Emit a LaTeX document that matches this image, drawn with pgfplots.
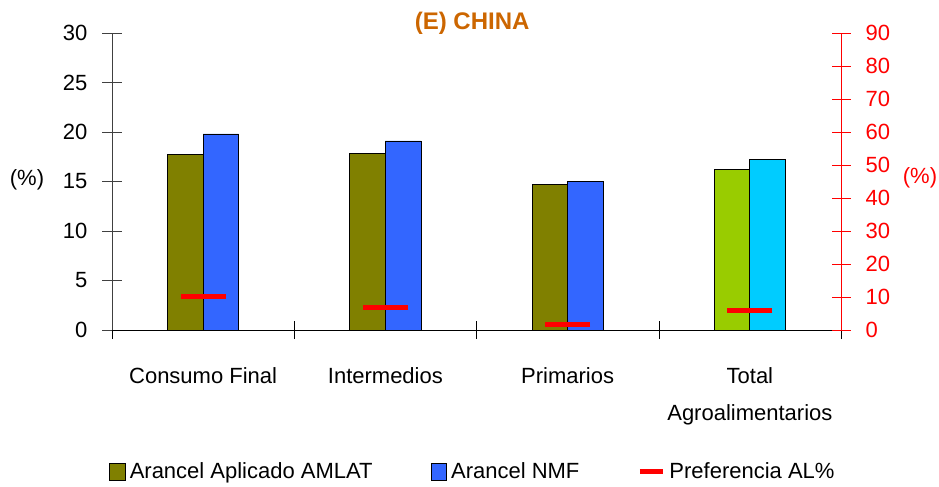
\documentclass[border=0pt]{standalone}
\usepackage{fontspec}
\setmainfont{Liberation Sans}
\usepackage{pgfplots}
\pgfplotsset{compat=1.18}
\definecolor{amlat}{HTML}{808000}
\definecolor{nmf}{HTML}{3366FF}
\definecolor{amlatT}{HTML}{99CC00}
\definecolor{nmfT}{HTML}{00CCFF}
\definecolor{titlec}{HTML}{CC6600}
\begin{document}
\begin{tikzpicture}
\pgfplotsset{
 common/.style={
  width=364.5pt, height=148.5pt, scale only axis,
  xmin=-0.5, xmax=3.5,
  tick align=center, major tick length=9.5pt,
  /pgf/number format/assume math mode=true,
  tick label style={font=\fontsize{11}{13}\selectfont},
  clip=false,
 }
}
\begin{axis}[common, name=main,
  ymin=0, ymax=30, ytick={0,5,...,30},
  axis x line*=bottom, axis y line*=left,
  axis line style={-},
  y axis line style={draw=darkgray}, ytick style={draw=darkgray},
  yticklabel style={xshift=-4pt},
  xtick={0,1,2,3},
  xticklabels={Consumo Final, Intermedios, Primarios, {Total\\Agroalimentarios}},
  xticklabel style={align=center, font=\fontsize{11}{18.5}\selectfont, yshift=-10.5pt},
  major x tick style={draw=none},
  minor xtick={-0.5,0.5,1.5,2.5,3.5},
  minor x tick style={draw=black},
  minor tick length=9pt,
  ylabel={(\%)},
  every axis y label/.style={at={(rel axis cs:0,0.505)}, anchor=center, xshift=-42.5pt, font=\fontsize{11}{13}\selectfont},
]
\addplot[ybar, bar width=0.195, bar shift=-0.0975, fill=amlat, draw=black] coordinates {(0,17.7) (1,17.8) (2,14.7)};
\addplot[ybar, bar width=0.195, bar shift=0.0975, fill=nmf, draw=black] coordinates {(0,19.8) (1,19.1) (2,15.0)};
\addplot[ybar, bar width=0.195, bar shift=-0.0975, fill=amlatT, draw=black] coordinates {(3,16.2)};
\addplot[ybar, bar width=0.195, bar shift=0.0975, fill=nmfT, draw=black] coordinates {(3,17.2)};
\node[font=\fontsize{12}{14}\selectfont\bfseries, text=titlec, anchor=base, yshift=1.5pt] at (rel axis cs:0.494,1) {(E) CHINA};
\end{axis}
\begin{axis}[common,
  ymin=0, ymax=90, ytick={0,10,...,90},
  axis y line*=right, axis x line=none,
  axis line style={-,red}, ytick style={draw=red}, yticklabel style={text=red, xshift=4pt},
  ylabel={(\%)},
  every axis y label/.style={at={(rel axis cs:1,0.512)}, anchor=center, xshift=39.5pt, text=red, font=\fontsize{11}{13}\selectfont},
  legend columns=3,
  legend style={draw=none, at={(0.4965,-0.478)}, anchor=center, font=\fontsize{11}{13}\selectfont,
    /tikz/every even column/.append style={column sep=27pt}},
]
\addlegendimage{legend image code/.code={\draw[fill=amlat,draw=black] (0pt,-4.2pt) rectangle (7.8pt,4.2pt);}}
\addlegendentry{Arancel Aplicado AMLAT}
\addlegendimage{legend image code/.code={\draw[fill=nmf,draw=black] (0pt,-4.2pt) rectangle (7.8pt,4.2pt);}}
\addlegendentry{Arancel NMF}
\addplot[only marks, mark=-, mark size=11.25pt, mark options={line width=2.5pt, draw=red},
  legend image code/.code={\draw[red,line width=2.5pt] (0pt,0pt) -- (11.5pt,0pt);}]
  coordinates {(0,10.2) (1,6.7) (2,1.8) (3,6.0)};
\addlegendentry{Preferencia AL\%}
\end{axis}
\pgfresetboundingbox
\path ([xshift=-56pt,yshift=-78pt]main.south west) rectangle ([xshift=49pt,yshift=16.5pt]main.north east);
\end{tikzpicture}
\end{document}
